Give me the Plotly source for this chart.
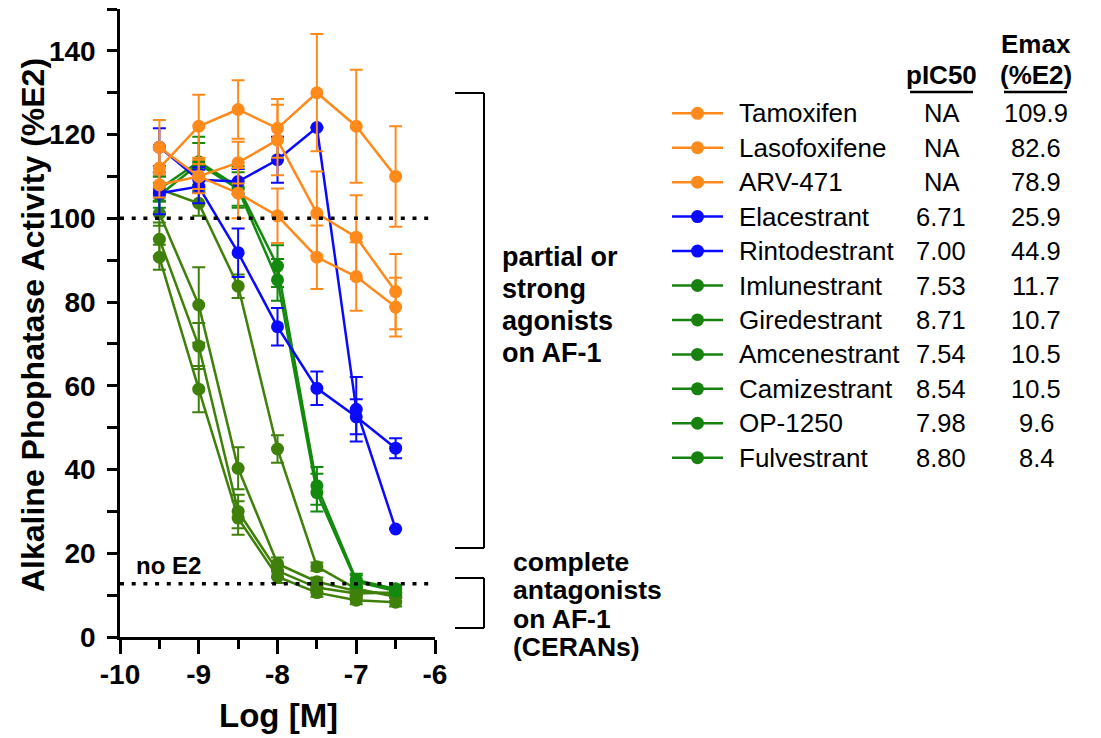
import plotly.graph_objects as go

# ---------------- data ----------------
log_conc = [-9.5, -9.0, -8.5, -8.0, -7.5, -7.0, -6.5]
x_ticks = [-10, -9, -8, -7, -6]
x_tick_labels = ["-10", "-9", "-8", "-7", "-6"]
y_ticks = [0, 20, 40, 60, 80, 100, 120, 140]
y_tick_labels = ["0", "20", "40", "60", "80", "100", "120", "140"]

compounds = ["Tamoxifen", "Lasofoxifene", "ARV-471", "Elacestrant", "Rintodestrant",
             "Imlunestrant", "Giredestrant", "Amcenestrant", "Camizestrant", "OP-1250", "Fulvestrant"]
pic50 = ["NA", "NA", "NA", "6.71", "7.00", "7.53", "8.71", "7.54", "8.54", "7.98", "8.80"]
emax = ["109.9", "82.6", "78.9", "25.9", "44.9", "11.7", "10.7", "10.5", "10.5", "9.6", "8.4"]

tamoxifen = [112, 122, 126, 121.5, 130, 122, 110]
tamoxifen_err = [4.5, 7.5, 7, 7, 14, 13.5, 12]
lasofoxifene = [117, 110, 113.3, 118.7, 101.2, 95.5, 82.5]
lasofoxifene_err = [6.5, 4, 5, 8.4, 10, 10, 9]
arv471 = [108, 110, 106, 100.6, 90.7, 86.1, 78.8]
arv471_err = [3, 3, 6, 6.5, 7.6, 8.2, 7]
elacestrant = [117, 109.2, 108.8, 114, 121.7, 54.4, 25.8]
elacestrant_err = [4.5, 3, 3, 5.5, 0, 7.7, 0]
rintodestrant = [106, 107.6, 91.8, 74.1, 59.4, 52.6, 45.1]
rintodestrant_err = [5, 4, 5.8, 4.5, 4, 4.2, 2.4]
imlunestrant = [107, 113.5, 107.5, 88.6, 36.1, 13.6, 11.5]
imlunestrant_err = [3, 6, 5, 5, 4.5, 1.5, 1]
giredestrant = [95, 69.5, 30, 15.8, 11.8, 10.4, 10.6]
giredestrant_err = [4, 5.5, 4, 1.5, 1, 1, 1]
amcenestrant = [105.5, 113, 107, 85.3, 34.5, 13.2, 11.0]
amcenestrant_err = [3, 5, 4, 5, 4.5, 1.5, 1]
camizestrant = [101.2, 79.3, 40.3, 17.5, 13.2, 11.0, 10.3]
camizestrant_err = [3, 9, 5, 1.5, 1, 1, 1]
op1250 = [107, 103.6, 83.8, 44.9, 16.8, 11.5, 9.6]
op1250_err = [3, 3, 2.8, 3.3, 1, 1, 1]
fulvestrant = [90.7, 59.2, 28.4, 14.4, 10.6, 8.8, 8.3]
fulvestrant_err = [3, 5.5, 4, 1.5, 1, 1, 1]

e2_level = 100
no_e2_level = 12.7

# ---------------- styles ----------------
ORANGE = "#ff8a1c"
BLUE = "#0a0aff"
DKGREEN = "#138a0e"
OLIVE = "#3f800a"
LEG_GREEN = "#17820f"
FONT = "Liberation Sans"

series = [
    ("Fulvestrant", fulvestrant, fulvestrant_err, OLIVE),
    ("Giredestrant", giredestrant, giredestrant_err, OLIVE),
    ("Camizestrant", camizestrant, camizestrant_err, OLIVE),
    ("OP-1250", op1250, op1250_err, OLIVE),
    ("Amcenestrant", amcenestrant, amcenestrant_err, DKGREEN),
    ("Imlunestrant", imlunestrant, imlunestrant_err, DKGREEN),
    ("Rintodestrant", rintodestrant, rintodestrant_err, BLUE),
    ("Elacestrant", elacestrant, elacestrant_err, BLUE),
    ("ARV-471", arv471, arv471_err, ORANGE),
    ("Lasofoxifene", lasofoxifene, lasofoxifene_err, ORANGE),
    ("Tamoxifen", tamoxifen, tamoxifen_err, ORANGE),
]
legend_colors = [ORANGE, ORANGE, ORANGE, BLUE, BLUE] + [LEG_GREEN] * 6

OFF = 8  # default page body margin
W, H = 1101, 738
L, R, T, B = 112, 674, 1, 109
PW, PH = W - L - R, H - T - B


def px_x(p):
    return (p - OFF - L) / PW


def px_y(p):
    return (H - B - (p - OFF)) / PH


fig = go.Figure()
for name, vals, err, col in series:
    fig.add_trace(go.Scatter(
        x=log_conc, y=vals, name=name, mode="lines+markers",
        line=dict(color=col, width=2.5),
        marker=dict(color=col, size=13),
        error_y=dict(type="data", array=err, color=col, thickness=2, width=6.5),
        showlegend=False, cliponaxis=False,
    ))

shapes = []
for lvl in (e2_level, no_e2_level):
    shapes.append(dict(type="line", xref="x", yref="y", x0=-10, x1=-6.08, y0=lvl, y1=lvl,
                       line=dict(color="black", width=3.5, dash="4px,7.7px")))


def bracket(y0, y1):
    out = []
    for yy in (y0, y1):
        out.append(dict(type="line", xref="paper", yref="paper", x0=px_x(455), x1=px_x(484),
                        y0=px_y(yy), y1=px_y(yy), line=dict(color="black", width=2)))
    out.append(dict(type="line", xref="paper", yref="paper", x0=px_x(484), x1=px_x(484),
                    y0=px_y(y0), y1=px_y(y1), line=dict(color="black", width=2)))
    return out


shapes += bracket(93, 548)
shapes += bracket(578, 628)

annotations = []


def txt(text, x, y, size, xanchor="left", bold=False, angle=0):
    annotations.append(dict(text=("<b>%s</b>" % text) if bold else text,
                            xref="paper", yref="paper", x=px_x(x), y=px_y(y),
                            xanchor=xanchor, yanchor="middle", showarrow=False, textangle=angle,
                            font=dict(family=FONT, size=size, color="black")))


row0, dy = 113.3, 34.44
for i, (nm, p, e, col) in enumerate(zip(compounds, pic50, emax, legend_colors)):
    yy = row0 + i * dy
    shapes.append(dict(type="line", xref="paper", yref="paper", x0=px_x(672), x1=px_x(723),
                       y0=px_y(yy), y1=px_y(yy), line=dict(color=col, width=2.5)))
    shapes.append(dict(type="circle", xref="paper", yref="paper",
                       x0=px_x(697.5 - 6.5), x1=px_x(697.5 + 6.5),
                       y0=px_y(yy + 6.5), y1=px_y(yy - 6.5),
                       fillcolor=col, line=dict(color=col, width=0)))
    txt(nm, 737, yy, 26)
    txt(p, 941, yy, 25.5, xanchor="center")
    txt(e, 1036, yy, 25.5, xanchor="center")

txt("pIC50", 941.5, 75, 26, xanchor="center", bold=True)
txt("Emax", 1036, 43.5, 26, xanchor="center", bold=True)
txt("(%E2)", 1036, 75, 26, xanchor="center", bold=True)
for x0, x1 in ((910, 973), (1004, 1067)):
    shapes.append(dict(type="line", xref="paper", yref="paper", x0=px_x(x0), x1=px_x(x1),
                       y0=px_y(92), y1=px_y(92), line=dict(color="black", width=2.5)))

for i, t in enumerate(["partial or", "strong", "agonists", "on AF-1"]):
    txt(t, 500, 257 + 32 * i, 27, bold=True)
for i, t in enumerate(["complete", "antagonists", "on AF-1", "(CERANs)"]):
    txt(t, 511, 562 + 28.3 * i, 26.5, bold=True)
txt("no E2", 134, 565, 24, bold=True)

txt("Log [M]", 278, 715, 33, xanchor="center", bold=True)
txt("Alkaline Phophatase Activity (%E2)", 33, 325, 32, xanchor="center", bold=True, angle=-90)

tick_font = dict(family=FONT, size=28, color="black", weight="bold")

fig.update_layout(
    width=W, height=H, margin=dict(l=L, r=R, t=T, b=B),
    paper_bgcolor="white", plot_bgcolor="white",
    shapes=shapes, annotations=annotations,
    font=dict(family=FONT, color="black"),
    xaxis=dict(range=[-10, -6], tickmode="array", tickvals=x_ticks, ticktext=x_tick_labels,
               ticks="outside", ticklen=14, tickwidth=2.5, tickcolor="black",
               showline=True, linewidth=2.5, linecolor="black", showgrid=False, zeroline=False,
               tickfont=tick_font, ticklabelstandoff=-3,
               minor=dict(dtick=0.5, ticks="outside", ticklen=9, tickwidth=2.5, tickcolor="black", showgrid=False)),
    yaxis=dict(range=[0, 150], tickmode="array", tickvals=y_ticks, ticktext=y_tick_labels,
               ticks="outside", ticklen=10, tickwidth=2.5, tickcolor="black",
               showline=True, linewidth=2.5, linecolor="black", showgrid=False, zeroline=False,
               tickfont=tick_font, ticklabelstandoff=6,
               minor=dict(tickmode="array", tickvals=[10, 30, 50, 70, 90, 110, 130, 150],
                          ticks="outside", ticklen=10, tickwidth=2.5, tickcolor="black", showgrid=False)),
)

fig.write_html("out.html")
